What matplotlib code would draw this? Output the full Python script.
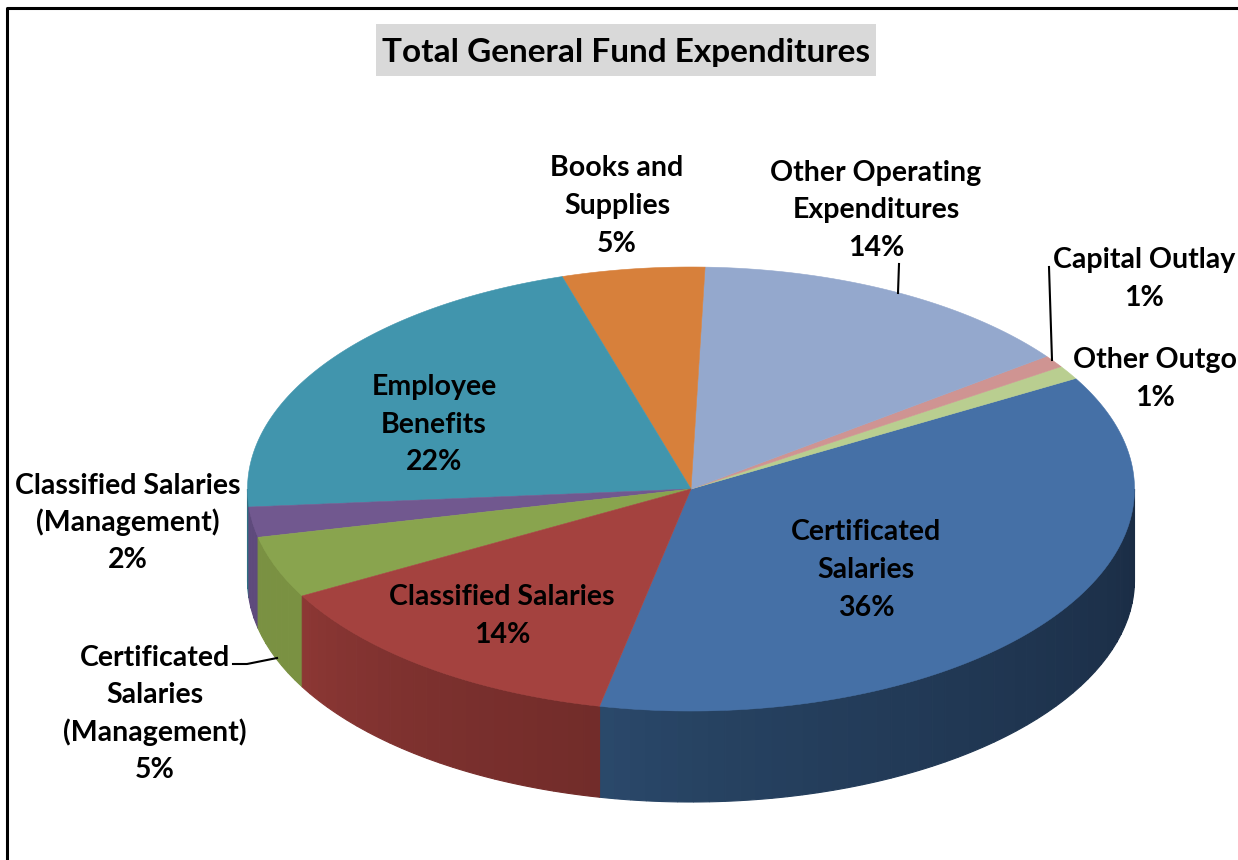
import numpy as np
import matplotlib
matplotlib.use("Agg")
import matplotlib.pyplot as plt

# shares run counter-clockwise from start_angle
categories = ["Certificated\nSalaries", "Other Outgo", "Capital Outlay",
              "Other Operating\nExpenditures", "Books and\nSupplies",
              "Employee\nBenefits", "Classified Salaries\n(Management)",
              "Certificated\nSalaries\n(Management)", "Classified Salaries"]
shares = [36.6, 1.0, 0.9, 14.3, 5.2, 21.6, 2.2, 4.5, 13.7]
pct_labels = ["36%", "1%", "1%", "14%", "5%", "22%", "2%", "5%", "14%"]
top_colors = ["#4570A6", "#B9CE90", "#CF9492", "#94A8CD", "#D7803B",
              "#4195AD", "#71588F", "#89A44E", "#A4423F"]
wall_left = ["#2B4A6C", "#8A9C68", "#9A6C6A", "#6E7E9A", "#A05F2B",
             "#2F7083", "#5E4A7C", "#7A9142", "#8E3835"]
wall_right = ["#1A2C44", "#8A9C68", "#9A6C6A", "#6E7E9A", "#A05F2B",
              "#2F7083", "#5E4A7C", "#7A9142", "#722C2A"]
label_xy = [(866, 567), (1155, 376), (1144, 276), (876, 207), (617, 203),
            (434, 422), (128, 520), (155, 711), (502, 613)]

start_angle = 258.1
cx, cy, rx, ry, depth = 691, 489, 443.5, 222, 91
line_gap = 37.5


def rim(a):
    t = np.radians(a)
    return cx + rx * np.cos(t), cy - ry * np.sin(t)


fig = plt.figure(figsize=(12.38, 8.6), dpi=100)
ax = fig.add_axes([0, 0, 1, 1])
ax.set_xlim(0, 1238)
ax.set_ylim(860, 0)
ax.axis("off")

edges = start_angle + np.cumsum([0] + shares) * 3.6

# side wall, only the front half of the ellipse shows
for i in range(len(shares)):
    a0, a1 = edges[i], edges[i + 1]
    for lo, hi in [(a0, a1), (a0 + 360, a1 + 360), (a0 - 360, a1 - 360)]:
        lo, hi = max(lo, 180), min(hi, 360)
        if hi <= lo:
            continue
        n = max(int((hi - lo) / 2), 2)
        steps = np.linspace(lo, hi, n + 1)
        c0 = np.array(matplotlib.colors.to_rgb(wall_left[i]))
        c1 = np.array(matplotlib.colors.to_rgb(wall_right[i]))
        for j in range(n):
            seg = np.linspace(steps[j], steps[j + 1], 6)
            x, y = rim(seg)
            # wall darkens quickly, then stays dark towards the right
            f = ((j + 0.5) / n) ** 0.7
            col = c0 + (c1 - c0) * f
            ax.fill(np.r_[x, x[::-1]], np.r_[y, y[::-1] + depth],
                    color=col, lw=0.8, zorder=2)

# top face
for i in range(len(shares)):
    seg = np.linspace(edges[i], edges[i + 1], 200)
    x, y = rim(seg)
    ax.fill(np.r_[cx, x], np.r_[cy, y], color=top_colors[i], lw=0.4, zorder=3)

# leader lines
ax.plot([1049, 1052], [267, 360], color="black", lw=1.5, zorder=4)
ax.plot([899, 898], [264, 293], color="black", lw=1.5, zorder=4)
ax.plot([233, 247, 277], [664, 664, 658], color="black", lw=1.5, zorder=4)

font = "Lato"
for name, pct, (x, y) in zip(categories, pct_labels, label_xy):
    lines = name.split("\n") + [pct]
    for k, line in enumerate(lines):
        ax.text(x, y + (k - (len(lines) - 1) / 2) * line_gap + 11, line,
                ha="center", va="baseline", fontsize=20.5, fontweight="bold",
                family=font, color="black", zorder=5)

ax.text(626, 62, "Total General Fund Expenditures", ha="center", va="baseline",
        fontsize=24, fontweight="bold", family=font, color="black", zorder=5)
ax.add_patch(plt.Rectangle((376, 24), 500, 52, color="#D9D9D9", lw=0, zorder=1))

# chart frame runs off the right and bottom of the crop
ax.plot([1240, 7, 7], [8, 8, 862], color="black", lw=2.2, zorder=6)

fig.savefig("out.png", dpi=100)
